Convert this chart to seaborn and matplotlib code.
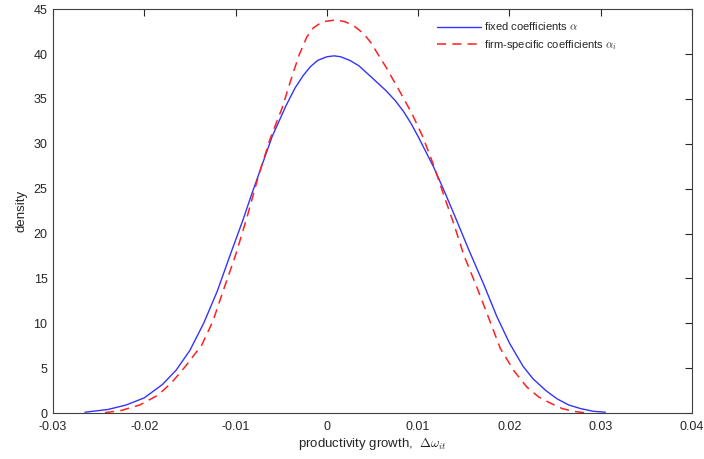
import matplotlib
matplotlib.use("Agg")
import matplotlib.pyplot as plt
import seaborn as sns
import pandas as pd

# density
fixed_x = [-0.0265, -0.0240, -0.0220, -0.0200, -0.0180, -0.0165, -0.0150, -0.0135,
           -0.0120, -0.0106, -0.0092, -0.0083, -0.0075, -0.0060, -0.0045, -0.0035,
           -0.0026, -0.0018, -0.0010, 0.0000, 0.0008, 0.0015, 0.0025, 0.0035, 0.0048,
           0.0065, 0.0075, 0.0084, 0.0092, 0.0100, 0.0117, 0.0130, 0.0142, 0.0155,
           0.0172, 0.0186, 0.0200, 0.0215, 0.0226, 0.0240, 0.0252, 0.0265, 0.0278,
           0.0292, 0.0305]
fixed_y = [0.1, 0.4, 0.9, 1.7, 3.2, 4.8, 7.0, 10.0,
           13.6, 17.6, 21.5, 24.2, 26.5, 30.8, 34.2, 36.2,
           37.6, 38.6, 39.3, 39.7, 39.8, 39.7, 39.3, 38.7, 37.5,
           35.9, 34.8, 33.6, 32.3, 30.8, 27.4, 24.4, 21.5, 18.3,
           14.3, 10.8, 7.8, 5.2, 3.8, 2.5, 1.6, 0.9, 0.5,
           0.2, 0.1]

firm_x = [-0.0243, -0.0225, -0.0205, -0.0185, -0.0170, -0.0155, -0.0137, -0.0125,
          -0.0113, -0.0100, -0.0087, -0.0075, -0.0062, -0.0049, -0.0037, -0.0030,
          -0.0022, -0.0015, -0.0005, 0.0010, 0.0020, 0.0030, 0.0040, 0.0048, 0.0065,
          0.0080, 0.0093, 0.0105, 0.0117, 0.0128, 0.0139, 0.0150, 0.0164, 0.0175,
          0.0190, 0.0205, 0.0219, 0.0232, 0.0245, 0.0258, 0.0270, 0.0285]
firm_y = [0.05, 0.3, 0.9, 2.0, 3.4, 5.2, 7.6, 10.2,
          13.8, 17.6, 22.0, 26.4, 30.6, 34.0, 37.9, 40.0,
          41.9, 42.9, 43.6, 43.8, 43.6, 43.1, 42.3, 41.3, 38.5,
          35.8, 33.4, 30.8, 27.6, 24.3, 21.1, 17.6, 14.1, 11.2,
          7.2, 4.7, 2.9, 1.8, 1.1, 0.5, 0.2, 0.0]

x_ticks = [-0.03, -0.02, -0.01, 0, 0.01, 0.02, 0.03, 0.04]
x_labels = ["-0.03", "-0.02", "-0.01", "0", "0.01", "0.02", "0.03", "0.04"]
y_ticks = list(range(0, 46, 5))

sns.set_theme(style="white")
plt.rcParams["font.family"] = ["Liberation Sans", "DejaVu Sans"]
plt.rcParams["mathtext.fontset"] = "cm"

fixed = pd.DataFrame({"x": fixed_x, "y": fixed_y})
firm = pd.DataFrame({"x": firm_x, "y": firm_y})

fig = plt.figure(figsize=(7.04, 4.59), dpi=100)
ax = fig.add_axes([0.0753, 0.100, 0.9077, 0.880])

sns.lineplot(data=fixed, x="x", y="y", ax=ax, color="#3333ff", lw=1.0,
             sort=False, label=r"fixed coefficients $\alpha$")
sns.lineplot(data=firm, x="x", y="y", ax=ax, color="#ff2020", lw=1.1,
             sort=False, label=r"firm-specific coefficients $\alpha_i$")
ax.lines[1].set_dashes((6, 4))

ax.set_xlim(-0.03, 0.04)
ax.set_ylim(0, 45)
ax.set_xticks(x_ticks)
ax.set_xticklabels(x_labels)
ax.set_yticks(y_ticks)
ax.tick_params(direction="in", length=5, width=0.8, top=True, right=True,
               labelsize=9, colors="#262626")
ax.tick_params(axis="x", pad=6)
ax.tick_params(axis="y", pad=4)
for s in ax.spines.values():
    s.set_color("#404040")
    s.set_linewidth(0.8)

ax.set_xlabel(r"productivity growth,  $\Delta\omega_{it}$", fontsize=9.5, labelpad=2)
ax.set_ylabel("density", fontsize=9.5, labelpad=4)

leg = ax.legend(loc="upper left", bbox_to_anchor=(0.585, 0.997), frameon=False,
                fontsize=8, handlelength=4, handletextpad=0.2, labelspacing=0.5)
for h in leg.get_lines()[1:]:
    h.set_dashes((6, 4))

fig.savefig("out.png", dpi=100)
